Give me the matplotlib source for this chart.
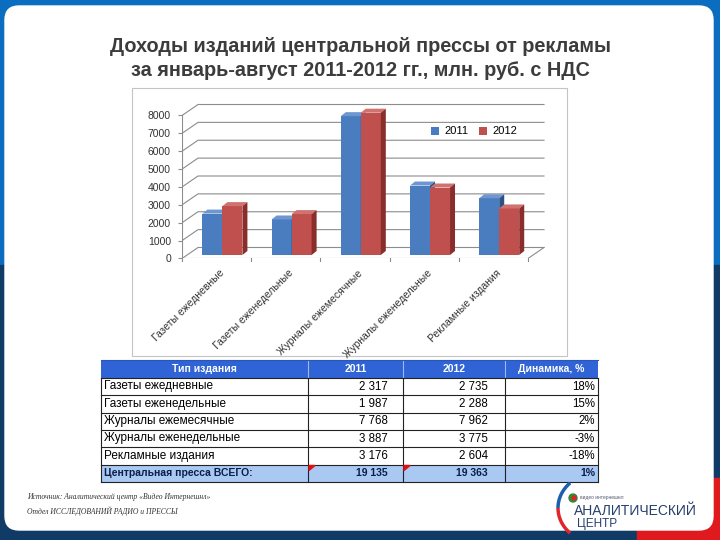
import numpy as np
import matplotlib.pyplot as plt
from matplotlib.patches import Rectangle, Polygon, FancyBboxPatch, Patch, Arc, Circle

plt.rcParams['font.family'] = ['Liberation Sans', 'DejaVu Sans']

# data
categories = ["Газеты ежедневные", "Газеты еженедельные", "Журналы ежемесячные",
              "Журналы еженедельные", "Рекламные издания"]
years = ["2011", "2012"]
y2011 = [2317, 1987, 7768, 3887, 3176]
y2012 = [2735, 2288, 7962, 3775, 2604]
dynamics = ["18%", "15%", "2%", "-3%", "-18%"]
total_label = "Центральная пресса ВСЕГО:"
totals = [19135, 19363]
total_dynamics = "1%"
yticks = list(range(0, 9000, 1000))
table_header = ["Тип издания", "2011", "2012", "Динамика, %"]

title1 = "Доходы изданий центральной прессы от рекламы"
title2 = "за январь-август 2011-2012 гг., млн. руб. с НДС"
source_lines = ["Источник: Аналитический центр «Видео Интернешнл»",
                "Отдел ИССЛЕДОВАНИЙ РАДИО и ПРЕССЫ"]

W, H = 720, 540
blue_f, blue_t, blue_s = '#4a7cc0', '#6e97d2', '#2d5185'
red_f, red_t, red_s = '#c0504d', '#d0726f', '#8a2e2c'
grid = '#8c8c8c'


def fmt(v):
    return f"{v:,}".replace(",", " ")


def frac(x0, y0, x1, y1):
    return [x0 / W, 1 - y1 / H, (x1 - x0) / W, (y1 - y0) / H]


fig = plt.figure(figsize=(7.2, 5.4), dpi=100)

# slide background, in pixel coords
bg = fig.add_axes([0, 0, 1, 1])
bg.set_xlim(0, W)
bg.set_ylim(H, 0)
bg.axis('off')
bg.add_patch(Rectangle((0, 0), W, 265, color='#0b6dbf', zorder=0))
bg.add_patch(Rectangle((0, 265), W, H - 265, color='#0f3b66', zorder=0))
bg.add_patch(Rectangle((637, 526), W - 637, 20, color='#e0191f', zorder=0))
bg.add_patch(Rectangle((705, 478), 20, 70, color='#e0191f', zorder=0))
bg.add_patch(FancyBboxPatch((5, 6), 708, 524, boxstyle="round,pad=0,rounding_size=14",
                            color='white', zorder=0.5))

bg.text(360, 47, title1, ha='center', va='center', fontsize=14.3, weight='bold', color='#3c3c3c')
bg.text(360, 70, title2, ha='center', va='center', fontsize=14.3, weight='bold', color='#3c3c3c')

# chart frame
bg.add_patch(Rectangle((132, 88), 435, 268, facecolor='white', edgecolor='#c4c4c4', lw=0.8, zorder=1))

# chart axes: category units on x, values on y
PX_CAT = 69.2
PX_K = 17.875
ax = fig.add_axes(frac(182, 90, 560, 258.5))
ax.patch.set_alpha(0)
ax.set_xlim(-0.5, -0.5 + 378 / PX_CAT)
ax.set_ylim(0, 168.5 / PX_K * 1000)
for s in ax.spines.values():
    s.set_visible(False)
ax.set_xticks([])
ax.set_yticks(yticks)
ax.set_yticklabels([str(v) for v in yticks])
ax.tick_params(axis='y', length=3, pad=5, labelsize=7.5, color=grid, labelcolor='#333333')

dxw = 16 / PX_CAT
dyw = 11 / PX_K * 1000
xl, xr = -0.5, len(categories) - 0.5
for v in yticks:
    ax.plot([xl, xl + dxw, xr + dxw], [v, v + dyw, v + dyw], color=grid, lw=0.8, zorder=1)
ax.plot([xl, xl], [0, yticks[-1]], color=grid, lw=0.8, zorder=1)
ax.plot([xl, xr, xr + dxw], [0, 0, dyw], color=grid, lw=0.8, zorder=1)
for i in range(len(categories) + 1):
    ax.plot([xl + i, xl + i], [0, -3 / PX_K * 1000], color=grid, lw=0.8, clip_on=False)

bw = 20 / PX_CAT
ddx = 5 / PX_CAT
ddy = 4 / PX_K * 1000
off = 3.5 / PX_K * 1000


def draw_bar(x0, h, cf, ct, cs):
    y0, yt = off, off + h
    ax.add_patch(Rectangle((x0, y0), bw, h, facecolor=cf, edgecolor='none', zorder=3))
    ax.add_patch(Polygon([(x0, yt), (x0 + bw, yt), (x0 + bw + ddx, yt + ddy), (x0 + ddx, yt + ddy)],
                         facecolor=ct, edgecolor='none', zorder=3))
    ax.add_patch(Polygon([(x0 + bw, y0), (x0 + bw + ddx, y0 + ddy), (x0 + bw + ddx, yt + ddy),
                          (x0 + bw, yt)], facecolor=cs, edgecolor='none', zorder=3))


for i in range(len(categories)):
    draw_bar(i - 0.205, y2011[i], blue_f, blue_t, blue_s)
    draw_bar(i - 0.205 + bw, y2012[i], red_f, red_t, red_s)
    ax.text(i + 0.04, -530, categories[i], rotation=45, rotation_mode='anchor',
            ha='right', va='top', fontsize=7.5, color='#333333')

handles = [Patch(facecolor=blue_f), Patch(facecolor=red_f)]
fig.legend(handles, years, loc='center left', bbox_to_anchor=(431 / W, 1 - 131.5 / H), ncol=2,
           frameon=False, fontsize=8, handlelength=0.7, handleheight=0.7, handletextpad=0.5,
           columnspacing=1.0, borderaxespad=0, borderpad=0)

# table under the chart
col_x = [101, 308, 403, 505, 598]
row_y = [360, 378, 395, 412.5, 430, 447, 464.5, 482]
bg.add_patch(Rectangle((col_x[0], row_y[0]), col_x[-1] - col_x[0], row_y[1] - row_y[0],
                       facecolor='#2f63d6', edgecolor='none', zorder=2))
bg.add_patch(Rectangle((col_x[0], row_y[-2]), col_x[-1] - col_x[0], row_y[-1] - row_y[-2],
                       facecolor='#a9c9f2', edgecolor='none', zorder=2))
for k, h in enumerate(table_header):
    bg.text((col_x[k] + col_x[k + 1]) / 2, (row_y[0] + row_y[1]) / 2, h, ha='center', va='center',
            fontsize=7.5, weight='bold', color='white', zorder=4)
for x in col_x[1:-1]:
    bg.plot([x, x], [row_y[0], row_y[1]], color='#9fb8ee', lw=0.8, zorder=3)
for y in row_y[1:]:
    bg.plot([col_x[0], col_x[-1]], [y, y], color='#222222', lw=0.8, zorder=3)
for x in col_x:
    bg.plot([x, x], [row_y[1], row_y[-1]], color='#222222', lw=0.8, zorder=3)
bg.plot([col_x[0], col_x[-1]], [row_y[0], row_y[0]], color='#2a56b8', lw=0.8, zorder=3)

for r in range(len(categories)):
    yc = (row_y[r + 1] + row_y[r + 2]) / 2
    bg.text(col_x[0] + 3, yc, categories[r], ha='left', va='center', fontsize=8.5, color='black', zorder=4)
    bg.text(col_x[2] - 15, yc, fmt(y2011[r]), ha='right', va='center', fontsize=8.3, zorder=4)
    bg.text(col_x[3] - 17, yc, fmt(y2012[r]), ha='right', va='center', fontsize=8.3, zorder=4)
    bg.text(col_x[4] - 3, yc, dynamics[r], ha='right', va='center', fontsize=8.3, zorder=4)

yc = (row_y[-2] + row_y[-1]) / 2
bg.text(col_x[0] + 3, yc, total_label, ha='left', va='center', fontsize=7.5, weight='bold',
        color='#0a1e4a', zorder=4)
bg.text(col_x[2] - 15, yc, fmt(totals[0]), ha='right', va='center', fontsize=7.5, weight='bold',
        color='#0a1e4a', zorder=4)
bg.text(col_x[3] - 17, yc, fmt(totals[1]), ha='right', va='center', fontsize=7.5, weight='bold',
        color='#0a1e4a', zorder=4)
bg.text(col_x[4] - 3, yc, total_dynamics, ha='right', va='center', fontsize=7.5, weight='bold',
        color='#0a1e4a', zorder=4)
for x in col_x[1:3]:
    bg.add_patch(Polygon([(x + 1, row_y[-2] + 1), (x + 7, row_y[-2] + 1), (x + 1, row_y[-2] + 6)],
                         color='#e01010', zorder=5))

# source note
bg.text(27, 497, source_lines[0], ha='left', va='center', fontsize=5.5, style='italic',
        family='Liberation Serif', color='#333333')
bg.text(27, 511, source_lines[1], ha='left', va='center', fontsize=5.5, style='italic',
        family='Liberation Serif', color='#333333')

# logo
bg.add_patch(Arc((598, 508), 80, 70, theta1=180, theta2=222, color='#1c5fae', lw=2.5, zorder=3))
bg.add_patch(Arc((598, 508), 80, 70, theta1=138, theta2=180, color='#e0262b', lw=2.5, zorder=3))
bg.add_patch(Circle((573, 498), 4, color='#2e8b3a', zorder=3))
bg.add_patch(Circle((574, 498), 2, color='#d42a2a', zorder=4))
bg.text(580, 498, "видео интернешнл", ha='left', va='center', fontsize=3.5, color='#555a70')
bg.text(574, 511, "АНАЛИТИЧЕСКИЙ", ha='left', va='center', fontsize=10, color='#26406c')
bg.text(577, 524, "ЦЕНТР", ha='left', va='center', fontsize=8.5, color='#26406c')

fig.savefig('out.png', dpi=100)
